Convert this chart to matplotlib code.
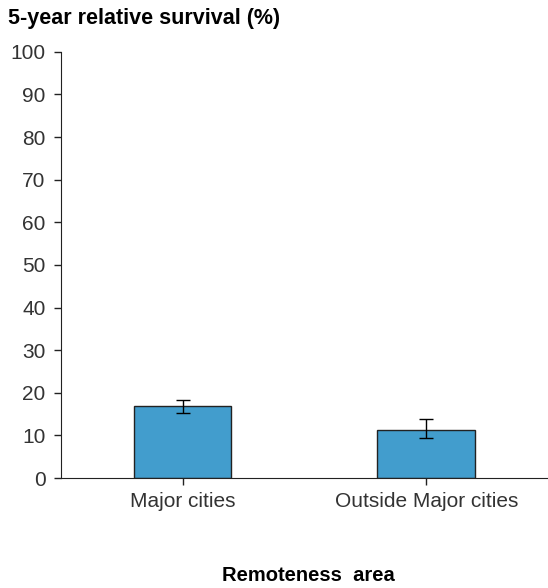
import matplotlib.pyplot as plt
import numpy as np

plt.rcParams['font.family'] = ['Liberation Sans', 'DejaVu Sans']

categories = ["Major cities", "Outside Major cities"]
survival = [16.9, 11.3]
lower = [15.3, 9.5]
upper = [18.3, 13.8]

fig = plt.figure(figsize=(5.48, 5.88), dpi=100)
ax = fig.add_axes([0.111, 0.187, 0.889, 0.725])

x = np.arange(len(categories))
err = [np.array(survival) - np.array(lower), np.array(upper) - np.array(survival)]
ax.bar(x, survival, width=0.4, color="#429dcd", edgecolor="#222222", linewidth=1.0,
       yerr=err, capsize=5, error_kw=dict(elinewidth=1.0, capthick=1.0, ecolor="black"))

ax.set_xlim(-0.5, 1.5)
ax.set_ylim(0, 100)
ax.set_yticks(np.arange(0, 101, 10))
ax.set_xticks(x)
ax.set_xticklabels(categories)
ax.tick_params(axis="both", labelsize=15, length=5, width=1, colors="#222222",
               labelcolor="#333333")
ax.tick_params(axis="x", pad=5)
ax.tick_params(axis="y", pad=6)
for side in ["top", "right"]:
    ax.spines[side].set_visible(False)
for side in ["left", "bottom"]:
    ax.spines[side].set_color("#222222")

fig.text(0.015, 0.968, "5-year relative survival (%)", fontsize=15.5, fontweight="bold",
         ha="left", va="center")
fig.text(0.562, 0.022, "Remoteness  area", fontsize=14.5, fontweight="bold",
         ha="center", va="center")

fig.savefig("out.png", dpi=100)
